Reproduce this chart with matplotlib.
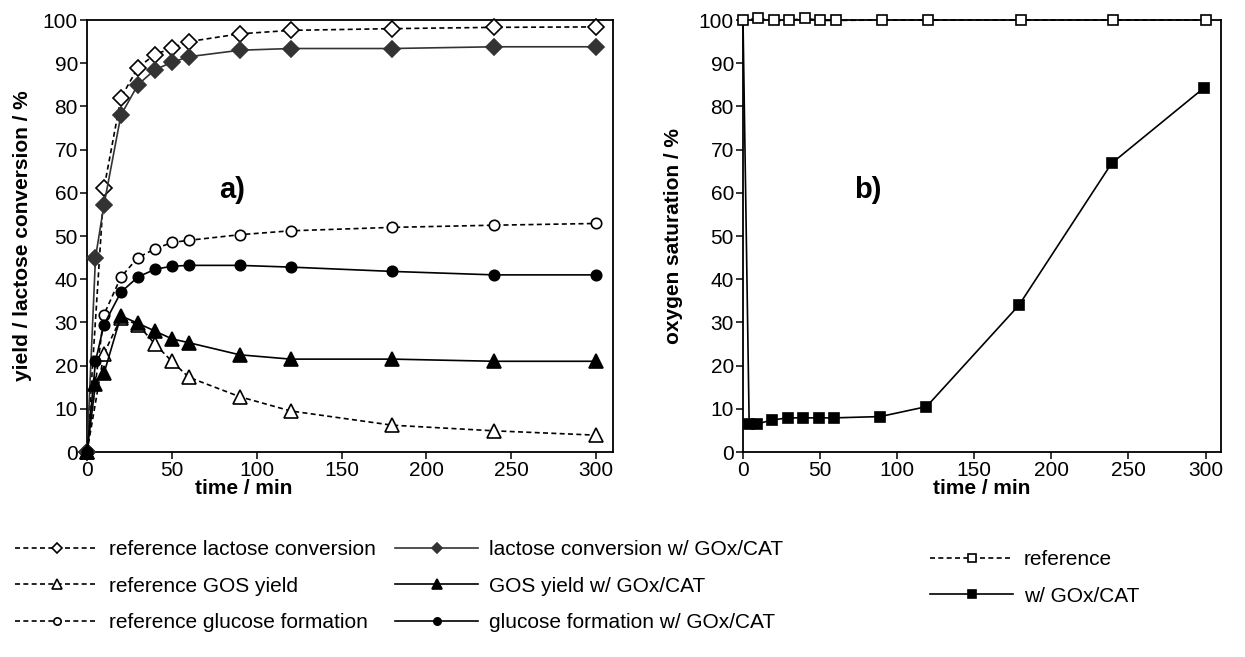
import numpy as np
import matplotlib
matplotlib.use("Agg")
import matplotlib.pyplot as plt

plt.rcParams['font.family'] = ['Liberation Sans', 'DejaVu Sans']

# panel a) - reaction course (time in min, values in %)
t_ref = [0, 10, 20, 30, 40, 50, 60, 90, 120, 180, 240, 300]
t_gox = [0, 5, 10, 20, 30, 40, 50, 60, 90, 120, 180, 240, 300]

ref_lactose = [0, 61, 82, 89, 92, 93.5, 95, 96.8, 97.6, 98, 98.3, 98.4]
ref_gos = [0, 22.8, 31, 29.5, 25, 21, 17.3, 12.8, 9.5, 6.2, 4.9, 3.9]
ref_glucose = [0, 31.8, 40.5, 45, 47, 48.5, 49, 50.3, 51.2, 52, 52.5, 52.9]

gox_lactose = [0, 45, 57.2, 78, 85, 88.5, 90.2, 91.5, 93, 93.4, 93.4, 93.8, 93.8]
gox_gos = [0, 15.8, 18.2, 31.5, 29.8, 28, 26.2, 25.3, 22.5, 21.5, 21.5, 21, 21]
gox_glucose = [0, 21, 29.5, 37, 40.5, 42.3, 43, 43.2, 43.2, 42.8, 41.8, 41, 41]

# panel b) - oxygen saturation
t_o2_ref = [0, 10, 20, 30, 40, 50, 60, 90, 120, 180, 240, 300]
o2_ref = [100, 100.4, 99.9, 99.9, 100.4, 99.9, 99.9, 100, 100, 100, 100, 100]
t_o2_gox = [0, 4, 9, 19, 29, 39, 49, 59, 89, 119, 179, 239, 299]
o2_gox = [100, 6.5, 6.5, 7.4, 7.9, 7.9, 7.9, 7.9, 8.2, 10.5, 34, 66.8, 84.3]

fig = plt.figure(figsize=(12.45, 6.57), dpi=100)
ax1 = fig.add_axes([87/1245, 1-452/657, 526/1245, 432/657])
ax2 = fig.add_axes([743/1245, 1-452/657, 478/1245, 432/657])

dash = (0, (3, 2))
lw = 1.2
ms_kw = dict(markeredgewidth=1.2, clip_on=False, zorder=3)

h1 = ax1.plot(t_ref, ref_lactose, linestyle=dash, color='black', lw=lw, marker='D', ms=8,
              mfc='white', mec='black', label='reference lactose conversion', **ms_kw)[0]
h2 = ax1.plot(t_ref, ref_gos, linestyle=dash, color='black', lw=lw, marker='^', ms=10,
              mfc='white', mec='black', label='reference GOS yield', **ms_kw)[0]
h3 = ax1.plot(t_ref, ref_glucose, linestyle=dash, color='black', lw=lw, marker='o', ms=7.5,
              mfc='white', mec='black', label='reference glucose formation', **ms_kw)[0]
h4 = ax1.plot(t_gox, gox_lactose, '-', color='#333333', lw=lw, marker='D', ms=8,
              mfc='#333333', mec='#333333', label='lactose conversion w/ GOx/CAT', **ms_kw)[0]
h5 = ax1.plot(t_gox, gox_gos, '-', color='black', lw=lw, marker='^', ms=10,
              mfc='black', mec='black', label='GOS yield w/ GOx/CAT', **ms_kw)[0]
h6 = ax1.plot(t_gox, gox_glucose, '-', color='black', lw=lw, marker='o', ms=7.5,
              mfc='black', mec='black', label='glucose formation w/ GOx/CAT', **ms_kw)[0]

h8 = ax2.plot(t_o2_gox, o2_gox, '-', color='black', lw=lw, marker='s', ms=7.5,
              mfc='black', mec='black', label='w/ GOx/CAT',
              markevery=list(range(1, len(t_o2_gox))), **ms_kw)[0]
h7 = ax2.plot(t_o2_ref, o2_ref, linestyle=dash, color='black', lw=lw, marker='s', ms=7.5,
              mfc='white', mec='black', label='reference', **ms_kw)[0]

for ax in (ax1, ax2):
    ax.set_xlim(0, 310)
    ax.set_ylim(0, 100)
    ax.set_xticks(range(0, 301, 50))
    ax.set_yticks(range(0, 101, 10))
    ax.tick_params(direction='out', length=5, width=1.1, labelsize=15, pad=1.5)
    for s in ax.spines.values():
        s.set_linewidth(1.3)

ax1.set_xlabel('time / min', fontsize=15, fontweight='bold')
ax1.xaxis.set_label_coords(0.297, -0.062)
ax2.set_xlabel('time / min', fontsize=15, fontweight='bold')
ax2.xaxis.set_label_coords(0.5, -0.062)
ax1.set_ylabel('yield / lactose conversion / %', fontsize=15, fontweight='bold')
ax1.yaxis.set_label_coords(-0.105, 0.5)
ax2.set_ylabel('oxygen saturation / %', fontsize=15, fontweight='bold')
ax2.yaxis.set_label_coords(-0.125, 0.5)

ax1.text(0.276, 0.606, 'a)', transform=ax1.transAxes, fontsize=21, fontweight='bold',
         ha='center', va='center')
ax2.text(0.262, 0.606, 'b)', transform=ax2.transAxes, fontsize=21, fontweight='bold',
         ha='center', va='center')

leg_kw = dict(frameon=False, fontsize=15, handlelength=4.0, handletextpad=0.5,
              labelspacing=0.85, markerscale=0.7, borderaxespad=0, borderpad=0)
fig.legend(handles=[h1, h2, h3], loc='upper left', bbox_to_anchor=(15/1245, 1-540/657), **leg_kw)
fig.legend(handles=[h4, h5, h6], loc='upper left', bbox_to_anchor=(395/1245, 1-540/657), **leg_kw)
fig.legend(handles=[h7, h8], loc='upper left', bbox_to_anchor=(930/1245, 1-550/657), **leg_kw)

fig.savefig('out.png', dpi=100, facecolor='white')
